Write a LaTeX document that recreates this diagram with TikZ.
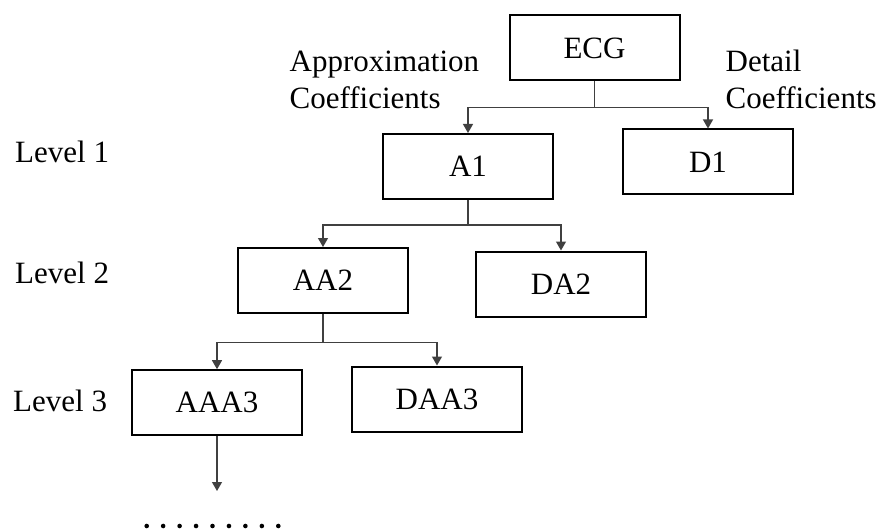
\documentclass[tikz,border=0pt]{standalone}
\usepackage{fontspec}
\setmainfont{Liberation Serif}
\usetikzlibrary{arrows.meta}
\begin{document}
\begin{tikzpicture}[x=1pt,y=-1pt,
  font=\fontsize{31}{37.3}\selectfont,
  box/.style={draw=black,line width=2pt,minimum width=170pt,minimum height=65pt,inner sep=0pt},
  conn/.style={draw=black!75,line width=1.2pt,-{Triangle[width=10pt,length=9pt]}},
  lbl/.style={anchor=base west,inner sep=0pt,align=left}]
\useasboundingbox (0,0) rectangle (882,529);
\node[box] (ecg) at (594.5,48) {ECG};
\node[box] (a1) at (468,166.5) {A1};
\node[box] (d1) at (708,162) {D1};
\node[box] (aa2) at (323,280.5) {AA2};
\node[box] (da2) at (561,284) {DA2};
\node[box] (aaa3) at (217,402.7) {AAA3};
\node[box] (daa3) at (437,399) {DAA3};
\node[lbl] (approx) at (289.5,109) {Approximation\\Coefficients};
\node[lbl] (detail) at (725.5,109) {Detail\\Coefficients};
\node[lbl] (l1) at (15,162.7) {Level 1};
\node[lbl] (l2) at (15,283.3) {Level 2};
\node[lbl] (l3) at (13,411.7) {Level 3};
\coordinate (j0) at ([yshift=-26pt]ecg.south);
\coordinate (j1) at ([yshift=-25pt]a1.south);
\coordinate (j2) at ([yshift=-28.5pt]aa2.south);
\coordinate (endp) at (217,491);
\draw[conn] (ecg.south) -- (j0) -| (a1.north);
\draw[conn] (j0) -| (d1.north);
\draw[conn] (a1.south) -- (j1) -| (aa2.north);
\draw[conn] (j1) -| (da2.north);
\draw[conn] (aa2.south) -- (j2) -| (aaa3.north);
\draw[conn] (j2) -| (daa3.north);
\draw[conn] (aaa3.south) -- (endp);
\foreach \i in {0,...,8} {
  \fill[black] (146.7+16.45*\i,526) circle (2.3pt);
}
\end{tikzpicture}
\end{document}
